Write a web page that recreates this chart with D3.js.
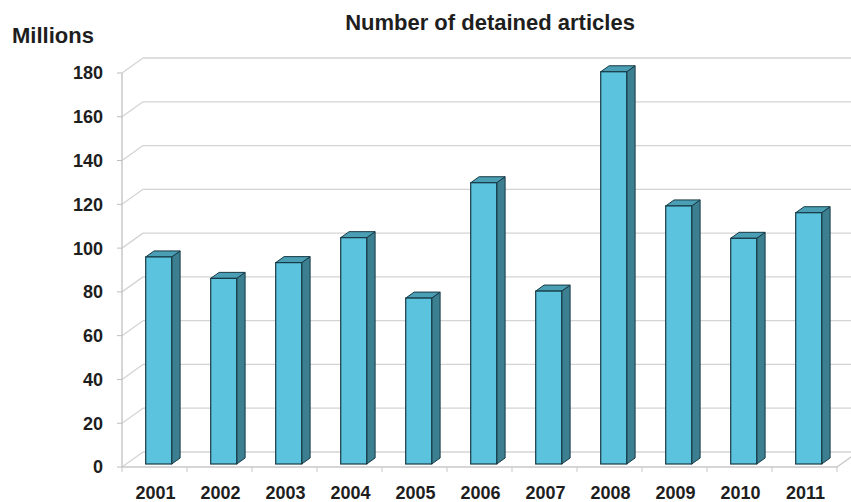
<!DOCTYPE html>
<html>
<head>
<meta charset="utf-8">
<script src="https://cdn.jsdelivr.net/npm/d3@7"></script>
<style>
  body { margin: 0; background: #fff; }
  text { font-family: "Liberation Sans", Arial, sans-serif; font-weight: bold; fill: #1e1e1e; }
</style>
</head>
<body>
<div class="canva"></div>
<script>
const years = ["2001","2002","2003","2004","2005","2006","2007","2008","2009","2010","2011"];
const detained = [94.6, 84.8, 92.0, 103.4, 75.8, 128.5, 79.0, 179.2, 117.9, 103.1, 114.8];
const yTicks = [0, 20, 40, 60, 80, 100, 120, 140, 160, 180];

const svg = d3.select(".canva").append("svg")
            .attr("width", 851)
            .attr("height", 502);

// front plane of the 3d box
const x = d3.scaleBand()
            .domain(years)
            .range([122, 837]);

const y = d3.scaleLinear()
            .domain([0, 180])
            .range([467, 73]);

// depth of the box (back wall offset)
const depth = {dx: 21, dy: -15};
const off = f => [depth.dx * f, depth.dy * f];

const grid = svg.append("g").attr("class", "grid");

// back wall gridlines + left wall diagonals
yTicks.forEach(t => {
    const [bx, by] = off(1);
    grid.append("line")
        .attr("x1", x.range()[0] + bx).attr("x2", x.range()[1] + bx + 30)
        .attr("y1", y(t) + by).attr("y2", y(t) + by)
        .attr("stroke", "#d4d4d4").attr("stroke-width", 1.3);
    grid.append("line")
        .attr("x1", x.range()[0]).attr("x2", x.range()[0] + bx)
        .attr("y1", y(t)).attr("y2", y(t) + by)
        .attr("stroke", "#d4d4d4").attr("stroke-width", 1.3);
    // tick
    grid.append("line")
        .attr("x1", x.range()[0] - 5).attr("x2", x.range()[0])
        .attr("y1", y(t)).attr("y2", y(t))
        .attr("stroke", "#bdbdbd").attr("stroke-width", 1);
});

// floor front edge + right diagonal
grid.append("line")
    .attr("x1", x.range()[0]).attr("x2", x.range()[1])
    .attr("y1", y(0)).attr("y2", y(0))
    .attr("stroke", "#c8c8c8").attr("stroke-width", 1.3);
grid.append("line")
    .attr("x1", x.range()[1]).attr("x2", x.range()[1] + depth.dx)
    .attr("y1", y(0)).attr("y2", y(0) + depth.dy)
    .attr("stroke", "#c8c8c8").attr("stroke-width", 1.3);

// left axis line
grid.append("line")
    .attr("x1", x.range()[0]).attr("x2", x.range()[0])
    .attr("y1", y(180)).attr("y2", y(0))
    .attr("stroke", "#c0c0c0").attr("stroke-width", 1.3);

// category ticks
years.concat(["end"]).forEach((yr, i) => {
    const px = i < years.length ? x(yr) : x.range()[1];
    grid.append("line")
        .attr("x1", px).attr("x2", px)
        .attr("y1", y(0)).attr("y2", y(0) + 5)
        .attr("stroke", "#c8c8c8").attr("stroke-width", 1);
});

// y labels
svg.append("g").selectAll("text")
    .data(yTicks)
    .enter().append("text")
    .attr("x", 103)
    .attr("y", d => y(d))
    .attr("dy", "0.36em")
    .attr("text-anchor", "end")
    .attr("font-size", 18)
    .text(d => d);

// x labels
svg.append("g").selectAll("text")
    .data(years)
    .enter().append("text")
    .attr("x", d => x(d) + x.bandwidth() / 2 + 1)
    .attr("y", 499)
    .attr("text-anchor", "middle")
    .attr("font-size", 18)
    .text(d => d);

svg.append("text")
    .attr("x", 490).attr("y", 30)
    .attr("text-anchor", "middle")
    .attr("font-size", 22)
    .text("Number of detained articles");

svg.append("text")
    .attr("x", 12).attr("y", 43)
    .attr("font-size", 22)
    .text("Millions");

// bars
const barW = x.bandwidth() * 0.4;
const [fx, fy] = off(0.2);
const [bx, by] = off(0.6);
const sx = bx - fx, sy = by - fy;

const bars = svg.append("g").selectAll("g")
    .data(years.map((yr, i) => ({year: yr, value: detained[i]})))
    .enter().append("g");

const h = d => y(0) - y(d.value);

bars.each(function(d) {
    const g = d3.select(this);
    const x0 = x(d.year) + (x.bandwidth() - barW) / 2 + fx;
    const x1 = x0 + barW;
    const yb = y(0) + fy;
    const yt = yb - h(d);

    g.append("path")
        .attr("d", `M${x1},${yb} L${x1 + sx},${yb + sy} L${x1 + sx},${yt + sy} L${x1},${yt} Z`)
        .attr("fill", "#3b7f91")
        .attr("stroke", "#173a45").attr("stroke-width", 1);
    g.append("path")
        .attr("d", `M${x0},${yt} L${x0 + sx},${yt + sy} L${x1 + sx},${yt + sy} L${x1},${yt} Z`)
        .attr("fill", "#4a9fb4")
        .attr("stroke", "#173a45").attr("stroke-width", 1);
    g.append("rect")
        .attr("x", x0).attr("y", yt)
        .attr("width", barW).attr("height", h(d))
        .attr("fill", "#5cc3de")
        .attr("stroke", "#173a45").attr("stroke-width", 1.2);
});
</script>
</body>
</html>
